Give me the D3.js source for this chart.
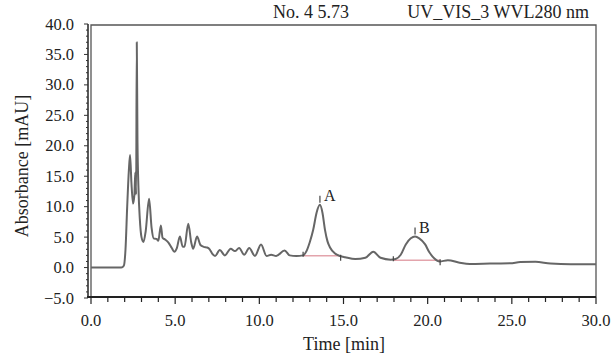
<!DOCTYPE html>
<meta charset="utf-8">
<style>
    body { margin: 0; background: #fff; }
    text { font-family: "Liberation Serif", "DejaVu Serif", serif; fill: #222; }
    .trace { fill: none; stroke: #666; stroke-width: 2; stroke-linejoin: round; }
    .base { stroke: #e3a4ac; stroke-width: 1.5; }
    .mark { stroke: #444; stroke-width: 1.2; }
</style>

<body>
    <svg width="615" height="359"></svg>
    <script src="https://d3js.org/d3.v7.min.js"></script>
    <script>
        // chromatogram (time in min, absorbance in mAU)
        var times = [0, 1.0, 1.8, 1.95, 2.05, 2.15, 2.25, 2.32, 2.4, 2.5, 2.58, 2.63, 2.68, 2.72, 2.76, 2.82, 2.9, 3.0, 3.12,
            3.25, 3.45, 3.6, 3.72, 3.9, 4.0, 4.15, 4.25, 4.4, 4.6, 4.8, 4.95, 5.1, 5.28, 5.45, 5.55, 5.78, 5.95, 6.07, 6.3,
            6.5, 6.7, 6.9, 7.05, 7.2, 7.37, 7.65, 7.95, 8.3, 8.55, 8.8, 9.1, 9.4, 9.74, 10.1, 10.43, 10.7, 11.0, 11.5, 11.8,
            12.2, 12.6, 12.8, 13.0, 13.2, 13.4, 13.6, 13.75, 13.9, 14.05, 14.2, 14.5, 14.8, 15.1, 15.7, 16.3, 16.77, 17.2,
            17.8, 18.1, 18.4, 18.7, 19.0, 19.25, 19.5, 19.85, 20.1, 20.4, 20.7, 21.2, 21.9, 22.5, 23.7, 24.9, 25.5, 26.4,
            27.3, 28.5, 30];
        var absorbance = [0, 0, 0, 0.3, 3, 10, 16, 18.5, 14, 10.5, 12, 15.6, 12, 37, 21, 13, 8, 5, 4.2,
            6, 11.3, 6.5, 4.8, 4.7, 4.4, 6.9, 4.9, 4.6, 4.1, 3.2, 2.6, 3.2, 5.1, 3.4, 3.4, 7.2, 4.2, 3.1, 5.1,
            3.7, 3.4, 3.3, 3.0, 2.3, 1.9, 2.9, 2.0, 3.1, 2.7, 3.2, 2.1, 3.2, 1.9, 3.8, 1.9, 2.1, 1.9, 2.8, 2.0,
            1.9, 2.0, 2.7, 4.2, 6.2, 9.0, 10.3, 9.0, 6.2, 4.3, 3.3, 2.3, 1.9, 1.7, 1.4, 1.6, 2.6, 1.6,
            1.3, 1.4, 2.1, 3.8, 4.8, 5.1, 4.8, 3.8, 2.5, 1.5, 1.0, 1.2, 0.8, 0.6, 0.65, 0.7, 0.9, 0.95,
            0.65, 0.55, 0.55];

        // labelled peaks and their integration limits
        var peakNames = ["A", "B"];
        var peakTimes = [13.6, 19.25];
        var peakHeights = [10.3, 5.1];
        var intStart = [12.6, 17.96];
        var intEnd = [14.83, 20.74];
        var intLevel = [1.95, 1.2];

        var xTicks = [0, 5, 10, 15, 20, 25, 30];
        var yTicks = [-5, 0, 5, 10, 15, 20, 25, 30, 35, 40];
        var titleLeft = "No. 4 5.73";
        var titleRight = "UV_VIS_3 WVL280 nm";

        var svg = d3.select("svg"),
            x0 = 91, x1 = 596, y0 = 25, y1 = 297;

        var x = d3.scaleLinear().domain([0, 30]).range([x0, x1]),
            y = d3.scaleLinear().domain([-5, 40]).range([y1 + 1, y0 - 1]);

        var data = times.map(function (t, i) { return { t: t, v: absorbance[i] }; });

        // plot frame
        svg.append("path")
            .attr("d", "M" + x0 + "," + y1 + "V" + y0 + "H" + x1 + "V" + y1)
            .attr("fill", "none").attr("stroke", "#555").attr("stroke-width", 1.3);

        // x axis, ticks pointing down
        var xAxis = svg.append("g").attr("transform", "translate(0," + y1 + ")");
        xAxis.append("line").attr("x1", x0 - 4).attr("x2", x1).attr("stroke", "#222").attr("stroke-width", 2);
        xAxis.selectAll(".minor").data(d3.range(0, 31)).enter().append("line")
            .attr("x1", function (d) { return x(d); }).attr("x2", function (d) { return x(d); })
            .attr("y1", 0).attr("y2", function (d) { return d % 5 === 0 ? 7 : 5; })
            .attr("stroke", "#222").attr("stroke-width", 1.2);
        xAxis.selectAll("text").data(xTicks).enter().append("text")
            .attr("x", function (d) { return x(d); }).attr("y", 29)
            .attr("text-anchor", "middle").attr("font-size", 16.5)
            .text(function (d) { return d3.format(".1f")(d); });

        // y axis, drawn a little left of the frame
        var yAxis = svg.append("g").attr("transform", "translate(" + (x0 - 3) + ",0)");
        yAxis.append("line").attr("y1", y(-5)).attr("y2", y(40)).attr("stroke", "#222").attr("stroke-width", 1.5);
        yAxis.selectAll(".minor").data(d3.range(-5, 41)).enter().append("line")
            .attr("y1", function (d) { return y(d); }).attr("y2", function (d) { return y(d); })
            .attr("x1", 0).attr("x2", function (d) { return d % 5 === 0 ? -4 : -2; })
            .attr("stroke", "#333").attr("stroke-width", 1);
        yAxis.selectAll("text").data(yTicks).enter().append("text")
            .attr("x", -14).attr("y", function (d) { return y(d) + 5.5; })
            .attr("text-anchor", "end").attr("font-size", 16.5)
            .text(function (d) { return d3.format(".1f")(d); });

        // axis titles
        svg.append("text").attr("x", 344).attr("y", 350).attr("text-anchor", "middle")
            .attr("font-size", 18).text("Time [min]");
        svg.append("text").attr("transform", "translate(28,166) rotate(-90)").attr("text-anchor", "middle")
            .attr("font-size", 18).text("Absorbance [mAU]");
        svg.append("text").attr("x", 273).attr("y", 18).attr("font-size", 18).text(titleLeft);
        svg.append("text").attr("x", 589).attr("y", 18).attr("text-anchor", "end").attr("font-size", 18).text(titleRight);

        // integration baselines
        svg.selectAll(".base").data(peakNames).enter().append("line").attr("class", "base")
            .attr("x1", function (d, i) { return x(intStart[i]); })
            .attr("x2", function (d, i) { return x(intEnd[i]); })
            .attr("y1", function (d, i) { return y(intLevel[i]); })
            .attr("y2", function (d, i) { return y(intLevel[i]); });

        // trace
        var line = d3.line()
            .x(function (d) { return x(d.t); })
            .y(function (d) { return y(d.v); })
            .curve(d3.curveMonotoneX);
        svg.append("path").datum(data).attr("class", "trace").attr("d", line);

        // integration limit marks and peak labels
        peakNames.forEach(function (p, i) {
            [intStart[i], intEnd[i]].forEach(function (t, j) {
                svg.append("line").attr("class", "mark")
                    .attr("x1", x(t)).attr("x2", x(t))
                    .attr("y1", y(intLevel[i]) - (j === 0 ? 4 : 1))
                    .attr("y2", y(intLevel[i]) + (j === 0 ? 1 : 5));
            });
            var px = x(peakTimes[i]), py = y(peakHeights[i]);
            svg.append("line").attr("class", "mark")
                .attr("x1", px).attr("x2", px).attr("y1", py - 9).attr("y2", py - 2);
            svg.append("text").attr("x", px + 4).attr("y", py - 4).attr("font-size", 16).text(p);
        });
    </script>
</body>
